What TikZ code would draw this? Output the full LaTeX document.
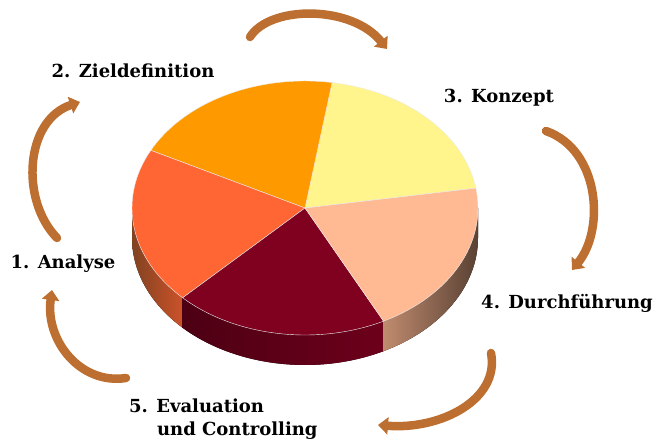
\documentclass[tikz,border=0pt]{standalone}
\usepackage{fontspec}
\setmainfont{DejaVu Serif}
\usetikzlibrary{arrows.meta,positioning}
\definecolor{arrowbrown}{HTML}{BC6F30}
\definecolor{sliceorange}{HTML}{FF9900}
\definecolor{sliceyellow}{HTML}{FFF58C}
\definecolor{slicepeach}{HTML}{FFB993}
\definecolor{slicemaroon}{HTML}{800020}
\definecolor{slicered}{HTML}{FF6633}

\begin{document}
\begin{tikzpicture}[x=1pt, y=-1pt,
  phase/.style={font=\bfseries\fontsize{18}{23}\selectfont, text=black, inner sep=1pt, align=left},
  cyclearrow/.style={-{Triangle[length=10pt,width=17pt]}, line width=8.5pt, draw=arrowbrown, line cap=round},
  pie radii/.style={x radius=173, y radius=127},
  slice/.style={draw=white!85!gray, line width=0.4pt},
]
\useasboundingbox (0,0) rectangle (667,446);

% Pie: sides first, then the top face
\begin{scope}[shift={(305,208)}, yscale=-1]
  \fill[left color=black!60!slicered!70!brown, right color=slicered!80!black]
    (180:173 and 127) arc[pie radii, start angle=180, end angle=225]
    -- ++(0,-30) arc[pie radii, start angle=225, end angle=180] -- cycle;
  \fill[left color=slicemaroon!60!black, right color=slicemaroon!85!black]
    (225:173 and 127) arc[pie radii, start angle=225, end angle=297]
    -- ++(0,-30) arc[pie radii, start angle=297, end angle=225] -- cycle;
  \fill[left color=slicepeach!75!black, right color=slicepeach!35!black]
    (297:173 and 127) arc[pie radii, start angle=297, end angle=360]
    -- ++(0,-30) arc[pie radii, start angle=360, end angle=297] -- cycle;

  % top face slices
  \filldraw[slice, fill=sliceyellow] (0,0) -- (9:173 and 127)
    arc[pie radii, start angle=9, end angle=81] -- cycle;
  \filldraw[slice, fill=sliceorange] (0,0) -- (81:173 and 127)
    arc[pie radii, start angle=81, end angle=153] -- cycle;
  \filldraw[slice, fill=slicered] (0,0) -- (153:173 and 127)
    arc[pie radii, start angle=153, end angle=225] -- cycle;
  \filldraw[slice, fill=slicemaroon] (0,0) -- (225:173 and 127)
    arc[pie radii, start angle=225, end angle=297] -- cycle;
  \filldraw[slice, fill=slicepeach] (0,0) -- (297:173 and 127)
    arc[pie radii, start angle=297, end angle=369] -- cycle;
\end{scope}

% Phase labels
\node[phase] (analyse) at (63,264) {1. Analyse};
\node[phase] (ziel) at (133,71) {2. Zieldefinition};
\node[phase] (konzept) at (499,98) {3. Konzept};
\node[phase] (durch) at (567,303) {4. Durchführung};
\node[phase, anchor=north west] (eval) at (128,398) {5. Evaluation\\\hspace*{1.55em}und Controlling};

% Arrow end points
\coordinate (a1s) at (57,238);
\coordinate (a1e) at (80,102);
\coordinate (a2s) at (250,37);
\coordinate (a2e) at (387,49);
\coordinate (a3s) at (546,131);
\coordinate (a3e) at (572,270);
\coordinate (a4s) at (491,353);
\coordinate (a4e) at (378,425);
\coordinate (a5s) at (126,378);
\coordinate (a5e) at (52,290);

% Cycle arrows
\draw[cyclearrow] (a1s) .. controls (20,200) and (25,120) .. (a1e);
\draw[cyclearrow] (a2s) .. controls (270,5) and (352,5) .. (a2e);
\draw[cyclearrow] (a3s) .. controls (600,150) and (605,230) .. (a3e);
\draw[cyclearrow] (a4s) .. controls (500,400) and (440,430) .. (a4e);
\draw[cyclearrow] (a5s) .. controls (80,385) and (45,340) .. (a5e);

\end{tikzpicture}
\end{document}
